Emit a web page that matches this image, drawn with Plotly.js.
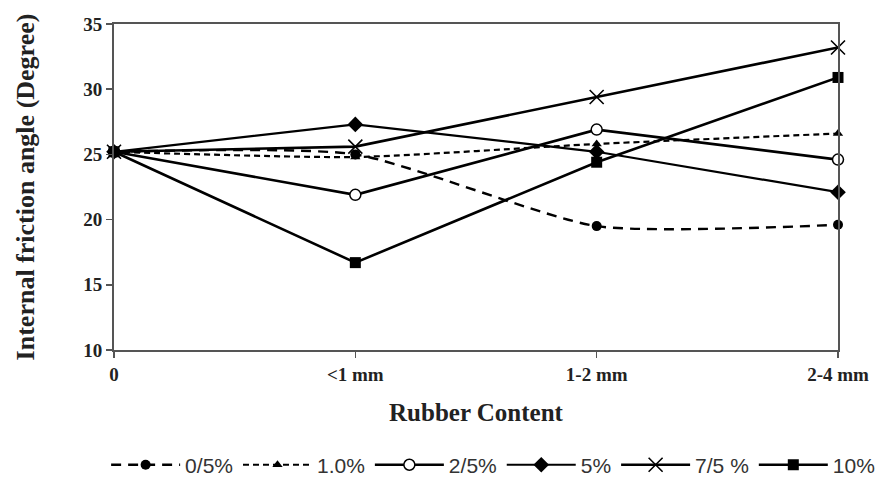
<!DOCTYPE html>
<html>
<head>
<meta charset="utf-8">
<script src="https://cdn.plot.ly/plotly-3.0.1.min.js"></script>
<style>html,body{margin:0;padding:0;background:#fff}#chart{width:881px;height:479px}</style>
</head>
<body>
<div id="chart"></div>
<script>
var categories = ["0", "<1 mm", "1-2 mm", "2-4 mm"];
var seriesNames = ["0/5%", "1.0%", "2/5%", "5%", "7/5 %", "10%"];
var s0_5 = [25.2, 25.0, 19.5, 19.6];
var s1_0 = [25.2, 24.8, 25.8, 26.6];
var s2_5 = [25.2, 21.9, 26.9, 24.6];
var s5 = [25.2, 27.3, 25.2, 22.1];
var s7_5 = [25.2, 25.6, 29.4, 33.2];
var s10 = [25.2, 16.7, 24.4, 30.9];
var yTicks = [10, 15, 20, 25, 30, 35];

var xIdx = categories.map(function(c, i){ return i; });
var styles = [
  {data: s0_5, dash: "10px,7px", shape: "spline", width: 2.4, marker: {symbol: "circle", size: 10, color: "#000"}},
  {data: s1_0, dash: "6px,4px", shape: "spline", width: 2.2, marker: {symbol: "triangle-up", size: 9, color: "#000"}},
  {data: s2_5, dash: "solid", shape: "linear", width: 2.6, marker: {symbol: "circle", size: 11, color: "#fff", line: {color: "#000", width: 1.5}}},
  {data: s5, dash: "solid", shape: "linear", width: 2.2, marker: {symbol: "diamond", size: 12, color: "#000"}},
  {data: s7_5, dash: "solid", shape: "linear", width: 2.6, marker: {symbol: "x-thin-open", size: 14, color: "#000", line: {color: "#000", width: 1.6}}},
  {data: s10, dash: "solid", shape: "linear", width: 2.6, marker: {symbol: "square", size: 11, color: "#000"}}
];
var traces = styles.map(function(s, i){
  return {
    x: xIdx, y: s.data, name: seriesNames[i], type: "scatter", mode: "lines+markers",
    line: {color: "#000", width: s.width, dash: s.dash, shape: s.shape, smoothing: 0.6},
    marker: s.marker, cliponaxis: false
  };
});
var layout = {
  width: 881, height: 479,
  margin: {l: 0, r: 0, t: 24, b: 129, autoexpand: false},
  paper_bgcolor: "#fff", plot_bgcolor: "#fff",
  showlegend: true,
  legend: {orientation: "h", xref: "container", yref: "container", x: 0.999, xanchor: "right", y: 0.029, yanchor: "middle",
    font: {family: "Liberation Sans, sans-serif", size: 21, color: "#333"},
    itemwidth: 69, tracegroupgap: 0},
  xaxis: {
    domain: [114 / 881, 838 / 881],
    range: [0, 3], tickmode: "array", tickvals: xIdx, ticktext: categories, automargin: false,
    showgrid: false, zeroline: false, showline: true, mirror: true, linecolor: "#555", linewidth: 2,
    ticks: "outside", ticklen: 6, tickcolor: "#555", tickwidth: 1.5,
    tickfont: {family: "Liberation Serif, serif", size: 19, color: "#222", weight: "bold"},
    title: {text: "<b>Rubber Content</b>", standoff: 20, font: {family: "Liberation Serif, serif", size: 25, color: "#222"}}
  },
  yaxis: {
    range: [10, 35], tickmode: "array", tickvals: yTicks, automargin: false,
    showgrid: false, zeroline: false, showline: true, mirror: true, linecolor: "#555", linewidth: 2,
    ticks: "outside", ticklen: 6, tickcolor: "#555", tickwidth: 1.5,
    tickfont: {family: "Liberation Serif, serif", size: 19, color: "#222", weight: "bold"},
    title: {text: "<b>Internal friction angle (Degree)</b>", standoff: 41, font: {family: "Liberation Serif, serif", size: 26, color: "#222"}}
  }
};
Plotly.newPlot("chart", traces, layout, {staticPlot: true, displayModeBar: false});
</script>
</body>
</html>
